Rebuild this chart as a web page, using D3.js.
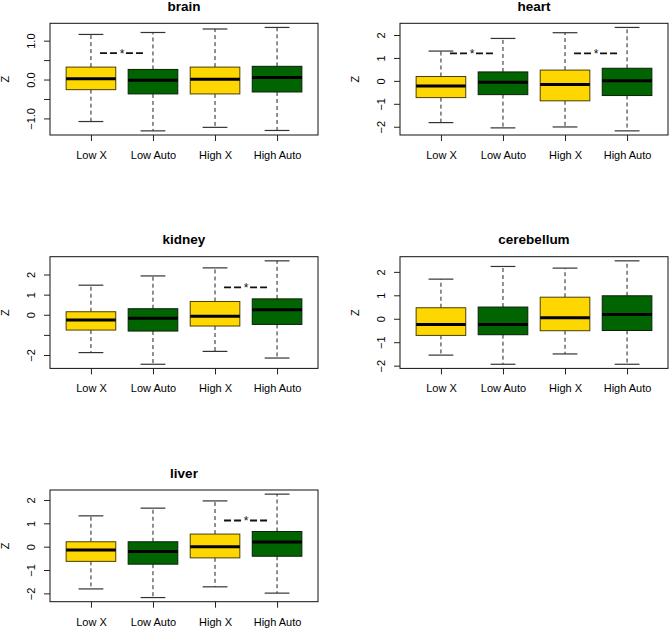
<!DOCTYPE html>
<html>
<head>
<meta charset="utf-8">
<script src="https://cdn.jsdelivr.net/npm/d3@7"></script>
<style>
  html, body { margin: 0; padding: 0; background: #fff; }
  svg { display: block; font-family: "Liberation Sans", Arial, Helvetica, sans-serif; }
</style>
</head>
<body>
<svg id="chart" width="669" height="628"></svg>
<script>
// ---------- data ----------
const groups = ["Low X", "Low Auto", "High X", "High Auto"];
const tissues = ["brain", "heart", "kidney", "cerebellum", "liver"];

// each row: [lower whisker, Q1, median, Q3, upper whisker]
const brain = [
  [-1.08, -0.26, 0.02, 0.32, 1.16],
  [-1.32, -0.37, -0.02, 0.26, 1.21],
  [-1.23, -0.37, 0.01, 0.32, 1.30],
  [-1.31, -0.32, 0.05, 0.34, 1.34]
];
const heart = [
  [-1.82, -0.73, -0.22, 0.19, 1.30],
  [-2.05, -0.60, -0.06, 0.39, 1.85],
  [-2.01, -0.87, -0.16, 0.47, 2.10],
  [-2.18, -0.64, 0.00, 0.55, 2.33]
];
const kidney = [
  [-1.88, -0.76, -0.26, 0.15, 1.47],
  [-2.46, -0.81, -0.17, 0.30, 1.93],
  [-1.82, -0.56, -0.07, 0.66, 2.33],
  [-2.15, -0.48, 0.25, 0.79, 2.68]
];
const cerebellum = [
  [-1.55, -0.71, -0.24, 0.47, 1.69],
  [-1.94, -0.68, -0.24, 0.50, 2.23],
  [-1.50, -0.51, 0.04, 0.92, 2.16],
  [-1.94, -0.50, 0.18, 0.98, 2.47]
];
const liver = [
  [-1.81, -0.63, -0.14, 0.21, 1.32],
  [-2.18, -0.75, -0.21, 0.21, 1.65],
  [-1.72, -0.48, 0.00, 0.54, 1.96],
  [-1.99, -0.41, 0.20, 0.65, 2.25]
];

// y tick values and their labels ("" = tick without label)
const brainTicks = [-1, -0.5, 0, 0.5, 1];
const brainTickLabels = ["\u22121.0", "", "0.0", "", "1.0"];
const heartTicks = [-2, -1, 0, 1, 2];
const heartTickLabels = ["\u22122", "\u22121", "0", "1", "2"];
const kidneyTicks = [-2, -1, 0, 1, 2];
const kidneyTickLabels = ["\u22122", "", "0", "1", "2"];
const cerebellumTicks = [-2, -1, 0, 1, 2];
const cerebellumTickLabels = ["\u22122", "\u22121", "0", "1", "2"];
const liverTicks = [-2, -1, 0, 1, 2];
const liverTickLabels = ["\u22122", "\u22121", "0", "1", "2"];

// significance markers: [group a, group b, y value]
const brainSig = [[1, 2, 0.68]];
const heartSig = [[1, 2, 1.20], [3, 4, 1.20]];
const kidneySig = [[3, 4, 1.36]];
const cerebellumSig = [];
const liverSig = [[3, 4, 1.12]];

const yLabel = "Z";

// ---------- styles ----------
const fillColors = ["#FFD700", "#006400", "#FFD700", "#006400"];
const borderColors = ["#4a3f00", "#0d1f0d", "#4a3f00", "#0d1f0d"];

// ---------- layout ----------
const panels = [
  { name: tissues[0], stats: brain, ticks: brainTicks, labels: brainTickLabels, sig: brainSig, left: 50, top: 23.3 },
  { name: tissues[1], stats: heart, ticks: heartTicks, labels: heartTickLabels, sig: heartSig, left: 400, top: 23.3 },
  { name: tissues[2], stats: kidney, ticks: kidneyTicks, labels: kidneyTickLabels, sig: kidneySig, left: 50, top: 256.7 },
  { name: tissues[3], stats: cerebellum, ticks: cerebellumTicks, labels: cerebellumTickLabels, sig: cerebellumSig, left: 400, top: 256.7 },
  { name: tissues[4], stats: liver, ticks: liverTicks, labels: liverTickLabels, sig: liverSig, left: 50, top: 490 }
];
const PW = 268, PH = 111.7;

const svg = d3.select("#chart");

panels.forEach(p => {
  const g = svg.append("g");
  const x = d3.scaleLinear().domain([0.34, 4.66]).range([p.left, p.left + PW]);
  const lo = d3.min(p.stats, d => d[0]);
  const hi = d3.max(p.stats, d => d[4]);
  const pad = 0.04 * (hi - lo);
  const y = d3.scaleLinear().domain([lo - pad, hi + pad]).range([p.top + PH, p.top]);
  const step = x(2) - x(1);
  const bw = 0.8 * step;
  const cw = 0.4 * step;

  // boxes
  const b = g.selectAll("g.box").data(p.stats).join("g").attr("class", "box");
  // whiskers (dashed)
  b.append("line")
    .attr("x1", (d, i) => x(i + 1)).attr("x2", (d, i) => x(i + 1))
    .attr("y1", d => y(d[3])).attr("y2", d => y(d[4]))
    .attr("stroke", "#222").attr("stroke-width", 1).attr("stroke-dasharray", "4,3");
  b.append("line")
    .attr("x1", (d, i) => x(i + 1)).attr("x2", (d, i) => x(i + 1))
    .attr("y1", d => y(d[1])).attr("y2", d => y(d[0]))
    .attr("stroke", "#222").attr("stroke-width", 1).attr("stroke-dasharray", "4,3");
  // caps
  b.append("line")
    .attr("x1", (d, i) => x(i + 1) - cw / 2).attr("x2", (d, i) => x(i + 1) + cw / 2)
    .attr("y1", d => y(d[4])).attr("y2", d => y(d[4]))
    .attr("stroke", "#333").attr("stroke-width", 1.2);
  b.append("line")
    .attr("x1", (d, i) => x(i + 1) - cw / 2).attr("x2", (d, i) => x(i + 1) + cw / 2)
    .attr("y1", d => y(d[0])).attr("y2", d => y(d[0]))
    .attr("stroke", "#333").attr("stroke-width", 1.2);
  // box rect
  b.append("rect")
    .attr("x", (d, i) => x(i + 1) - bw / 2)
    .attr("width", bw)
    .attr("y", d => y(d[3]))
    .attr("height", d => y(d[1]) - y(d[3]))
    .attr("fill", (d, i) => fillColors[i])
    .attr("stroke", (d, i) => borderColors[i])
    .attr("stroke-width", 1);
  // median
  b.append("line")
    .attr("x1", (d, i) => x(i + 1) - bw / 2).attr("x2", (d, i) => x(i + 1) + bw / 2)
    .attr("y1", d => y(d[2])).attr("y2", d => y(d[2]))
    .attr("stroke", "#000").attr("stroke-width", 3);

  // frame
  g.append("rect")
    .attr("x", p.left).attr("y", p.top).attr("width", PW).attr("height", PH)
    .attr("fill", "none").attr("stroke", "#111").attr("stroke-width", 1);

  // y axis
  const ya = g.append("g").attr("transform", `translate(${p.left},0)`)
    .call(d3.axisLeft(y).tickValues(p.ticks).tickFormat((d, i) => p.labels[i]).tickSizeOuter(0).tickSize(6));
  ya.select(".domain").remove();
  ya.selectAll("line").attr("stroke", "#222");
  ya.selectAll("text")
    .attr("transform", "rotate(-90)")
    .attr("x", 0).attr("y", -15).attr("dy", 0)
    .attr("text-anchor", "middle")
    .attr("font-size", 11).attr("fill", "#000")
    .style("font-family", "'Liberation Sans', Arial, sans-serif");

  // x axis
  const xa = g.append("g").attr("transform", `translate(0,${p.top + PH})`)
    .call(d3.axisBottom(x).tickValues([1, 2, 3, 4]).tickFormat((d, i) => groups[i]).tickSizeOuter(0).tickSize(6));
  xa.select(".domain").remove();
  xa.selectAll("line").attr("stroke", "#222");
  xa.selectAll("text")
    .attr("y", 24).attr("dy", 0)
    .attr("font-size", 11).attr("fill", "#000")
    .style("font-family", "'Liberation Sans', Arial, sans-serif");

  // y label
  g.append("text")
    .attr("transform", `translate(${p.left - 41},${p.top + PH / 2}) rotate(-90)`)
    .attr("text-anchor", "middle")
    .attr("font-size", 11)
    .text(yLabel);

  // title
  g.append("text")
    .attr("x", p.left + PW / 2).attr("y", p.top - 12.5)
    .attr("text-anchor", "middle")
    .attr("font-size", 13.5).attr("font-weight", "bold")
    .text(p.name);

  // significance markers
  p.sig.forEach(s => {
    const c = (x(s[0]) + x(s[1])) / 2;
    const yy = y(s[2]);
    g.append("line").attr("x1", c - 22).attr("x2", c - 4).attr("y1", yy).attr("y2", yy)
      .attr("stroke", "#111").attr("stroke-width", 1.8).attr("stroke-dasharray", "7,3");
    g.append("line").attr("x1", c + 4).attr("x2", c + 22).attr("y1", yy).attr("y2", yy)
      .attr("stroke", "#111").attr("stroke-width", 1.8).attr("stroke-dasharray", "7,3");
    g.append("text").attr("x", c).attr("y", yy + 4.5)
      .attr("text-anchor", "middle").attr("font-size", 12).attr("fill", "#111")
      .text("*");
  });
});
</script>
</body>
</html>
